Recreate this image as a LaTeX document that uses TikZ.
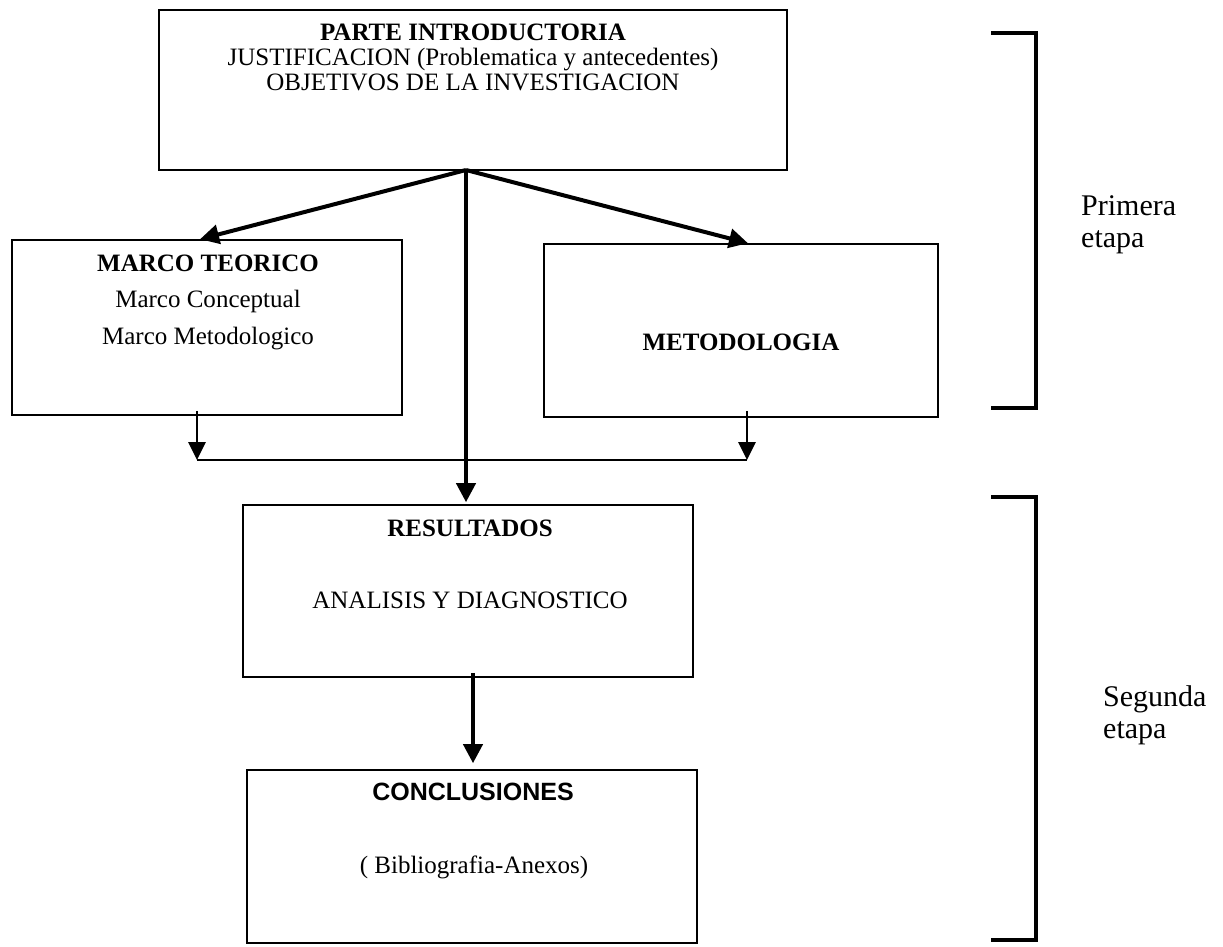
\documentclass[tikz,border=0pt]{standalone}
\usepackage{fontspec}
\setmainfont{Liberation Serif}
\newfontfamily\arialfont{Liberation Sans}
\usetikzlibrary{arrows.meta}

\tikzset{
  caja/.style={draw,line width=1.6pt,rectangle,inner sep=0pt},
  texto/.style={align=center,inner sep=0pt,font=\fontsize{25}{25}\selectfont},
  flecha/.style={line width=4pt,-{Triangle[length=19pt,width=19pt]}},
  flechita/.style={line width=2.8pt,-{Triangle[length=18pt,width=17pt]}},
  llave/.style={line width=4.2pt},
  etapa/.style={align=left,anchor=north west,inner sep=0pt,font=\fontsize{30}{32}\selectfont},
}

\begin{document}
\begin{tikzpicture}[x=1pt,y=-1pt]
\useasboundingbox (0,0) rectangle (1223,946);
% cajas
\node[caja,minimum width=628pt,minimum height=160pt] (intro) at (473,90) {};
\node[caja,minimum width=390pt,minimum height=175pt] (marco) at (207,327.5) {};
\node[caja,minimum width=394pt,minimum height=173pt] (metod) at (741,330.5) {};
\node[caja,minimum width=450pt,minimum height=172pt] (result) at (468,591) {};
\node[caja,minimum width=450pt,minimum height=173pt] (concl) at (472,856.5) {};
% textos
\node[texto,anchor=north] (introtxt) at (473,23.5) {\textbf{PARTE INTRODUCTORIA}\\JUSTIFICACION (Problematica y antecedentes)\\OBJETIVOS DE LA INVESTIGACION};
\node[texto,anchor=north,font=\fontsize{25}{36.5}\selectfont] (marcotxt) at (208,254.5) {\textbf{MARCO TEORICO}\\Marco Conceptual\\Marco Metodologico};
\node[texto,anchor=base] (metodtxt) at (741,350) {\textbf{METODOLOGIA}};
\node[texto,anchor=base] (resulttxt) at (470,536) {\textbf{RESULTADOS}};
\node[texto,anchor=base] (analisis) at (470,608) {ANALISIS Y DIAGNOSTICO};
\node[texto,anchor=base,font=\arialfont\bfseries\fontsize{25}{25}\selectfont] (concltxt) at (473,800) {CONCLUSIONES};
\node[texto,anchor=base] (biblio) at (474,873) {( Bibliografia-Anexos)};
% flechas
\coordinate (split) at (466,170);
\draw[flecha] (split) -- ([xshift=-7pt]marco.north);
\draw[flecha] (split) -- ([xshift=7pt]metod.north);
\draw[flecha,shorten >=2pt] (split) -- (split |- result.north);
\coordinate (unionI) at (197,460);
\coordinate (unionD) at (747,460);
\draw[flechita] ([xshift=-10pt,yshift=5pt]marco.south) -- (unionI);
\draw[flechita] ([xshift=6pt,yshift=7pt]metod.south) -- (unionD);
\draw[line width=2pt] (unionI) -- (unionD);
\draw[flecha,shorten >=6pt] ([xshift=5pt,yshift=5pt]result.south) -- ([xshift=1pt]concl.north);
% etapas
\draw[llave] (991,33) -- (1036,33) -- (1036,408) -- (991,408);
\draw[llave] (991,497) -- (1036,497) -- (1036,940) -- (991,940);
\node[etapa] (primera) at (1081,195) {Primera\\etapa};
\node[etapa] (segunda) at (1103,685) {Segunda\\etapa};
\end{tikzpicture}
\end{document}
